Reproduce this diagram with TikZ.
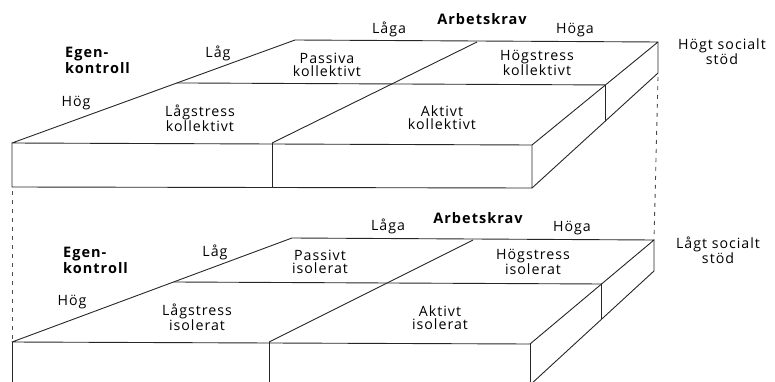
\documentclass[tikz,border=0pt]{standalone}
\usepackage{fontspec}
\setmainfont{Open Sans}[LetterSpace=7]
\usetikzlibrary{calc}
\begin{document}
\begin{tikzpicture}[x=1pt,y=-1pt,
  edge/.style={line width=0.9pt,draw=black!85,line join=round},
  guide/.style={line width=0.9pt,draw=black!70,dash pattern=on 4pt off 5pt},
  lbl/.style={font=\fontsize{14.2}{12.8}\selectfont,align=center,inner sep=0pt,text=black},
  hd/.style={font=\fontsize{14.5}{16}\selectfont\bfseries,inner sep=0pt,text=black},
  hdl/.style={hd,align=left}]
\useasboundingbox (0,0) rectangle (775,382);
\clip (0,0) rectangle (775,382);

% ---------- upper box (high social support)
\coordinate (A1) at (12,143);
\coordinate (B1) at (272,143);
\coordinate (C1) at (532,145);
\coordinate (D1) at (12,187);
\coordinate (E1) at (272,187);
\coordinate (F1) at (532,188);
\coordinate (G1) at (295,40);
\coordinate (H1) at (477,42);
\coordinate (I1) at (658,42);
\coordinate (M1) at (658,73);
\coordinate (J1) at ($(A1)!0.583!(G1)$);
\coordinate (K1) at ($(C1)!0.583!(I1)$);
\coordinate (L1) at ($(F1)!0.583!(M1)$);

\draw[edge] (A1) -- (C1) -- (I1) -- (G1) -- cycle;
\draw[edge] (J1) -- (K1);
\draw[edge] (B1) -- (H1);
\draw[edge] (A1) -- (D1) -- (F1) -- (C1);
\draw[edge] (B1) -- (E1);
\draw[edge] (F1) -- (M1) -- (I1);
\draw[edge] (K1) -- (L1);

% ---------- lower box (low social support)
\coordinate (A2) at (12,342);
\coordinate (B2) at (269,342);
\coordinate (C2) at (530,344);
\coordinate (D2) at (12,392);
\coordinate (E2) at (269,392);
\coordinate (F2) at (530,385);
\coordinate (F2b) at (530,392);
\coordinate (G2) at (292,238);
\coordinate (H2) at (473,240);
\coordinate (I2) at (654,240);
\coordinate (M2) at (654,271);
\coordinate (J2) at ($(A2)!0.577!(G2)$);
\coordinate (K2) at ($(C2)!0.577!(I2)$);
\coordinate (L2) at ($(F2)!0.577!(M2)$);

\draw[edge] (A2) -- (C2) -- (I2) -- (G2) -- cycle;
\draw[edge] (J2) -- (K2);
\draw[edge] (B2) -- (H2);
\draw[edge] (A2) -- (D2);
\draw[edge] (B2) -- (E2);
\draw[edge] (C2) -- (F2b);
\draw[edge] ($(F2)!-0.1!(M2)$) -- (M2) -- (I2);
\draw[edge] (K2) -- (L2);

% ---------- dashed guides
\draw[guide] (D1) ++(0,4) -- (A2);
\draw[guide] (M1) ++(0,4) -- (I2);

% ---------- labels upper
\node[hd] (arb1) at (482,19) {Arbetskrav};
\node[lbl] (laga1) at (389,29) {Låga};
\node[lbl] (hoga1) at (575,30) {Höga};
\node[lbl] (hss) at (722,52) {Högt socialt\\stöd};
\node[hdl,anchor=west] (ek1) at (65,60) {Egen-\\kontroll};
\node[lbl] (lag1) at (218,53) {Låg};
\node[lbl] (hog1) at (76,103) {Hög};
\node[lbl] (pk) at (327,65) {Passiva\\kollektivt};
\node[lbl] (lk) at (200,118) {Lågstress\\kollektivt};
\node[lbl] (hk) at (537,63) {Högstress\\kollektivt};
\node[lbl] (ak) at (442,118) {Aktivt\\kollektivt};

% ---------- labels lower
\node[hd] (arb2) at (478,218) {Arbetskrav};
\node[lbl] (laga2) at (388,226) {Låga};
\node[lbl] (hoga2) at (572,228) {Höga};
\node[lbl] (lss) at (718,250) {Lågt socialt\\stöd};
\node[hdl,anchor=west] (ek2) at (63,260) {Egen-\\kontroll};
\node[lbl] (lag2) at (215,252) {Låg};
\node[lbl] (hog2) at (72,302) {Hög};
\node[lbl] (pi) at (320,262) {Passivt\\isolerat};
\node[lbl] (li) at (197,317) {Lågstress\\isolerat};
\node[lbl] (hi) at (533,262) {Högstress\\isolerat};
\node[lbl] (ai) at (440,318) {Aktivt\\isolerat};
\end{tikzpicture}
\end{document}
